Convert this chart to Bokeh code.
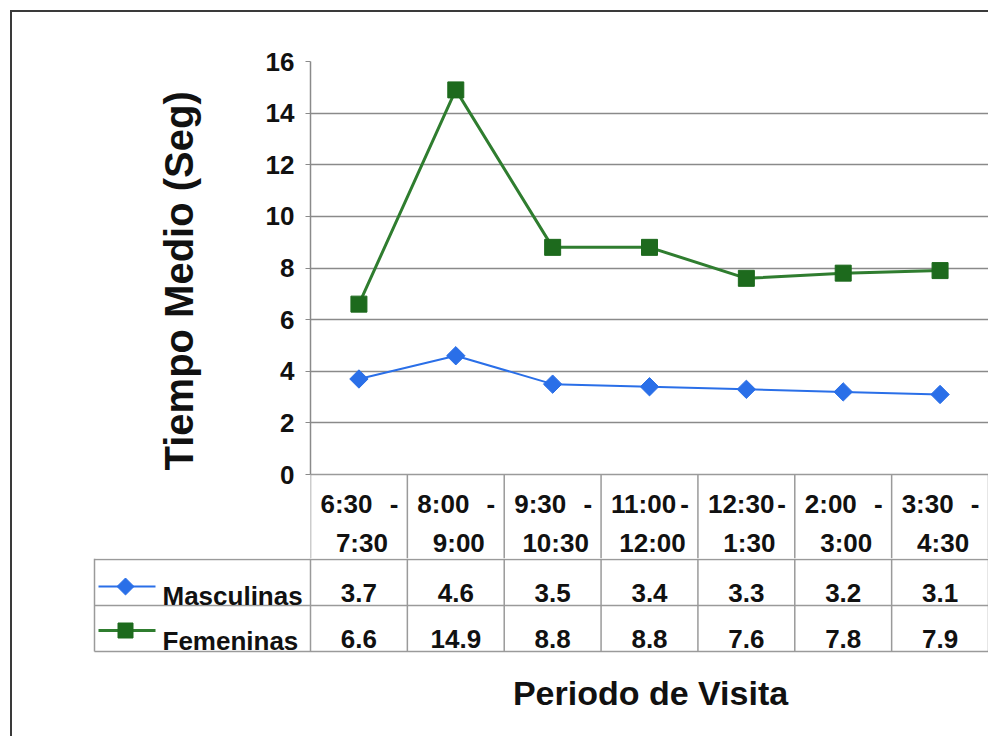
import numpy as np
from bokeh.plotting import figure
from bokeh.layouts import column
from bokeh.models import Range1d, FixedTicker, Title
from bokeh.core.properties import value
from bokeh.embed import file_html
from bokeh.resources import INLINE

# ---------------- data ----------------
period_start = ["6:30", "8:00", "9:30", "11:00", "12:30", "2:00", "3:30"]
period_end = ["7:30", "9:00", "10:30", "12:00", "1:30", "3:00", "4:30"]
masculinas = [3.7, 4.6, 3.5, 3.4, 3.3, 3.2, 3.1]
femeninas = [6.6, 14.9, 8.8, 8.8, 7.6, 7.8, 7.9]
y_ticks = [0, 2, 4, 6, 8, 10, 12, 14, 16]
series_names = ["Masculinas", "Femeninas"]
y_title = "Tiempo Medio (Seg)"
x_title = "Periodo de Visita"

# ---------------- style / layout (page pixels) ----------------
FONT = "Liberation Sans"
ORG = 12                      # layout origin on the page
PAGE_R, PAGE_B = 988, 736
FL, FR, FT, FB = 310, 988, 61, 474   # plot area
SPLIT = 558                   # boundary between upper and lower figure
BLUE = "#2a6fe8"
GREEN = "#2f7d2f"
GREEN_M = "#1d6a1d"
GRID = "#8a8a8a"
TLINE = "#9a9a9a"
TXT = "#111111"

n = len(period_start)
xs = list(range(n))
PX = (FR - FL) / n
PXY = (FB - FT) / (y_ticks[-1] - y_ticks[0])


def tx(px):
    return -0.5 + (px - FL) / PX


def ty(py):
    return (FB - py) / PXY


W = PAGE_R - ORG
common = dict(text_font=value(FONT), text_font_size=value("26px"),
              text_font_style="bold", text_color=TXT, text_baseline="alphabetic")

# ---------------- upper figure: chart + table header ----------------
p = figure(width=W, height=SPLIT - ORG, output_backend="svg", toolbar_location=None,
           x_range=Range1d(-0.5, n - 0.5), y_range=Range1d(ty(SPLIT), y_ticks[-1]),
           x_axis_location=None, frame_align=False,
           min_border_left=FL - ORG, min_border_right=PAGE_R - FR, min_border_top=FT - ORG,
           min_border_bottom=0)
p.outline_line_color = None
p.background_fill_color = None
p.border_fill_color = None
p.xgrid.visible = False
p.ygrid.ticker = FixedTicker(ticks=y_ticks[1:-1])
p.ygrid.grid_line_color = GRID
p.ygrid.grid_line_width = 1.5
p.ygrid.bounds = (y_ticks[0], y_ticks[-1])

ax = p.yaxis[0]
ax.ticker = FixedTicker(ticks=y_ticks)
ax.bounds = (y_ticks[0], y_ticks[-1])
ax.axis_line_color = GRID
ax.axis_line_width = 1.5
ax.major_tick_line_color = GRID
ax.major_tick_out = 5
ax.major_tick_in = 0
ax.minor_tick_line_color = None
ax.major_label_standoff = 11
ax.major_label_text_font = FONT
ax.major_label_text_font_size = "26px"
ax.major_label_text_font_style = "bold"
ax.major_label_text_color = TXT

p.add_layout(Title(text=y_title, align="left", offset=SPLIT - 470, standoff=124,
                   text_font=FONT, text_font_size="40px", text_font_style="bold",
                   text_color=TXT), "left")

# table header grid
edges = [i - 0.5 for i in range(n + 1)]
p.segment(x0=edges, y0=[ty(FB)] * (n + 1), x1=edges, y1=[ty(SPLIT)] * (n + 1),
          line_color=TLINE, line_width=1.5)
p.segment(x0=[-0.5], y0=[ty(FB)], x1=[n - 0.5], y1=[ty(FB)],
          line_color=TLINE, line_width=1.5)

# series
p.line(xs, femeninas, line_color=GREEN, line_width=3)
p.scatter(xs, femeninas, marker="square", size=16, fill_color=GREEN_M, line_color=GREEN_M)
p.line(xs, masculinas, line_color=BLUE, line_width=2)
p.scatter(xs, masculinas, marker="square", angle=np.pi / 4, size=13,
          fill_color=BLUE, line_color=BLUE)

# header labels (categories)
p.text(x=[x - 0.5 + 10 / PX for x in xs], y=[ty(503)] * n, text=period_start,
       text_align="left", **common)
p.text(x=[x + 0.5 - 9 / PX for x in xs], y=[ty(503)] * n, text=["-"] * n,
       text_align="right", **common)
p.text(x=[x + 3 / PX for x in xs], y=[ty(542)] * n, text=period_end,
       text_align="center", **common)

# ---------------- lower figure: data rows + legend keys + x title ----------------
H2 = PAGE_B - SPLIT
t = figure(width=W, height=H2, output_backend="svg", toolbar_location=None,
           x_range=Range1d(tx(ORG), tx(PAGE_R)), y_range=Range1d(-H2, 0),
           x_axis_location=None, y_axis_location=None, frame_align=False, min_border=0)
t.outline_line_color = None
t.background_fill_color = None
t.border_fill_color = None
t.grid.visible = False


def tyb(py):
    return -(py - SPLIT)


ROW2, ROW3, LEG_L = 605, 651, 94
hy = [tyb(SPLIT) - 1, tyb(ROW2), tyb(ROW3)]
t.segment(x0=[tx(LEG_L)] * 3, y0=hy, x1=[n - 0.5] * 3, y1=hy,
          line_color=TLINE, line_width=1.5)
vx = edges + [tx(LEG_L)]
t.segment(x0=vx, y0=[0] * len(vx), x1=vx, y1=[tyb(ROW3)] * len(vx),
          line_color=TLINE, line_width=1.5)

t.text(x=xs, y=[tyb(592)] * n, text=[f"{v:.1f}" for v in masculinas],
       text_align="center", **common)
t.text(x=xs, y=[tyb(638)] * n, text=[f"{v:.1f}" for v in femeninas],
       text_align="center", **common)

# legend keys
t.line(x=[tx(98), tx(155)], y=[tyb(586)] * 2, line_color=BLUE, line_width=2)
t.scatter(x=[tx(125)], y=[tyb(586)], marker="square", angle=np.pi / 4, size=12,
          fill_color=BLUE, line_color=BLUE)
t.line(x=[tx(98), tx(155)], y=[tyb(630)] * 2, line_color=GREEN, line_width=3)
t.scatter(x=[tx(125)], y=[tyb(630)], marker="square", size=15,
          fill_color=GREEN_M, line_color=GREEN_M)
t.text(x=[tx(162)] * 2, y=[tyb(595), tyb(640)], text=series_names,
       text_align="left", **common)

# x title
t.text(x=[tx(650)], y=[tyb(692)], text=[x_title], text_align="center",
       text_font=value(FONT), text_font_size=value("34px"), text_font_style="bold",
       text_color=TXT, text_baseline="alphabetic")

layout = column(p, t, spacing=0, margin=(ORG - 2, 0, 0, ORG - 2),
                styles={"border-top": "2px solid #3a3a3a",
                        "border-left": "2px solid #3a3a3a"})

open("out.html", "w").write(file_html(layout, INLINE))
